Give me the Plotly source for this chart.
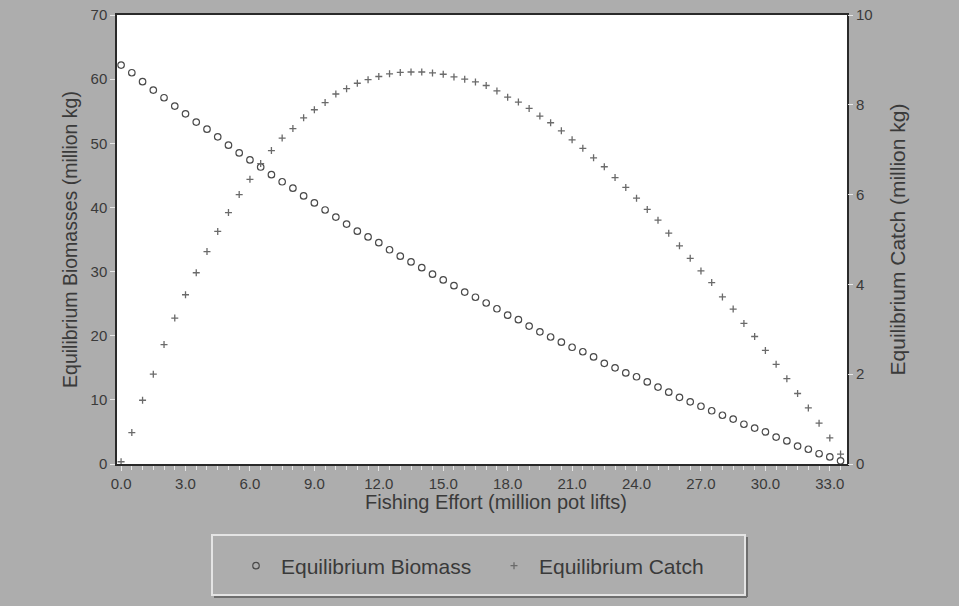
import plotly.graph_objects as go

effort = [i * 0.5 for i in range(68)]

biomass = [62.2, 61.0, 59.6, 58.3, 57.1, 55.8, 54.6, 53.3, 52.2, 51.0,
           49.7, 48.5, 47.4, 46.3, 45.1, 44.0, 43.0, 41.8, 40.7, 39.6,
           38.5, 37.4, 36.3, 35.4, 34.5, 33.4, 32.4, 31.5, 30.6, 29.6,
           28.7, 27.8, 26.8, 26.0, 25.1, 24.2, 23.2, 22.5, 21.5, 20.6,
           19.8, 19.0, 18.2, 17.5, 16.7, 15.7, 15.0, 14.2, 13.6, 12.8,
           12.0, 11.2, 10.4, 9.7, 9.0, 8.3, 7.6, 7.0, 6.2, 5.6,
           5.0, 4.2, 3.6, 2.8, 2.3, 1.6, 1.1, 0.5]

catch = [0.05, 0.70, 1.42, 2.00, 2.66, 3.25, 3.77, 4.26, 4.73, 5.18,
         5.60, 6.00, 6.34, 6.69, 6.98, 7.26, 7.47, 7.71, 7.89, 8.05,
         8.24, 8.36, 8.48, 8.56, 8.63, 8.69, 8.72, 8.73, 8.73, 8.71,
         8.68, 8.62, 8.57, 8.51, 8.43, 8.31, 8.17, 8.06, 7.92, 7.75,
         7.60, 7.42, 7.22, 7.03, 6.82, 6.62, 6.38, 6.16, 5.92, 5.67,
         5.43, 5.14, 4.86, 4.58, 4.30, 4.04, 3.72, 3.45, 3.13, 2.84,
         2.53, 2.22, 1.90, 1.57, 1.25, 0.91, 0.58, 0.22]

x_ticks = [0, 3, 6, 9, 12, 15, 18, 21, 24, 27, 30, 33]
x_ticklabels = ["%.1f" % v for v in x_ticks]
left_ticks = [0, 10, 20, 30, 40, 50, 60, 70]
right_ticks = [0, 2, 4, 6, 8, 10]

BG = "#adadad"
TXT = "#3a3a3a"
FONT = "Liberation Sans, Arial, sans-serif"

# plot area in pixels: x 117..847, y 15..464
def px(xp):
    return (xp - 117) / 730.0

def py(yp):
    return (464 - yp) / 449.0

fig = go.Figure()
fig.add_trace(go.Scatter(
    x=effort, y=biomass, mode="markers", name="Equilibrium Biomass",
    marker=dict(symbol="circle-open", size=6.5, color="#4a4a4a",
                line=dict(width=1.2, color="#4a4a4a")),
))
fig.add_trace(go.Scatter(
    x=effort, y=catch, mode="markers", name="Equilibrium Catch", yaxis="y2",
    marker=dict(symbol="cross-thin", size=5, color="#6a6a6a",
                line=dict(width=1.3, color="#6a6a6a")),
))

shapes = [
    # legend box shadow (bottom/right)
    dict(type="line", xref="paper", yref="paper", x0=px(214), x1=px(747),
         y0=py(597), y1=py(597), line=dict(color="#6e6e6e", width=2)),
    dict(type="line", xref="paper", yref="paper", x0=px(747), x1=px(747),
         y0=py(537), y1=py(597), line=dict(color="#6e6e6e", width=2)),
    # legend box
    dict(type="rect", xref="paper", yref="paper", x0=px(212), x1=px(745),
         y0=py(535), y1=py(595), line=dict(color="#e4e4e4", width=2),
         fillcolor="rgba(0,0,0,0)"),
]

fig.update_layout(
    width=959, height=606,
    paper_bgcolor=BG, plot_bgcolor="white",
    margin=dict(l=117, r=112, t=15, b=142, autoexpand=False),
    font=dict(family=FONT, color=TXT, size=15),
    showlegend=True,
    legend=dict(
        orientation="h", x=px(231), xanchor="left", y=py(566), yanchor="middle",
        bgcolor="rgba(0,0,0,0)", borderwidth=0,
        font=dict(size=21, color=TXT, family=FONT),
        entrywidth=203, itemwidth=40,
    ),
    xaxis=dict(
        range=[-0.19, 33.8], tickvals=x_ticks, ticktext=x_ticklabels,
        showgrid=False, zeroline=False,
        showline=True, linecolor="#2a2a2a", linewidth=1.5, mirror=True,
        ticks="outside", ticklen=5, tickcolor="#e8e8e8", tickwidth=1,
        minor=dict(dtick=0.5, ticks="outside", ticklen=4, tickcolor="#e8e8e8", tickwidth=1),
        tickfont=dict(size=15, color=TXT),
    ),
    yaxis=dict(
        range=[0, 70], tickvals=left_ticks,
        showgrid=False, zeroline=False,
        showline=True, linecolor="#2a2a2a", linewidth=1.5, mirror=True,
        ticks="outside", ticklen=5, tickcolor="#e8e8e8", tickwidth=1,
        tickfont=dict(size=15, color=TXT),
        title=dict(text="Equilibrium Biomasses (million kg)",
                   font=dict(size=19.5, color=TXT), standoff=8),
    ),
    yaxis2=dict(
        range=[0, 10], tickvals=right_ticks, overlaying="y", side="right",
        showgrid=False, zeroline=False, showline=False,
        ticks="outside", ticklen=5, tickcolor="#e8e8e8", tickwidth=1,
        tickfont=dict(size=15, color=TXT),
        title=dict(text="Equilibrium Catch (million kg)",
                   font=dict(size=21, color=TXT), standoff=18),
    ),
    shapes=shapes,
    annotations=[dict(
        text="Fishing Effort (million pot lifts)", xref="paper", yref="paper",
        x=px(496), y=py(502), xanchor="center", yanchor="middle", showarrow=False,
        font=dict(size=20, color=TXT, family=FONT),
    )],
)

fig.write_html("out.html", config={"displayModeBar": False},
               post_script="document.body.style.margin='0px';")
